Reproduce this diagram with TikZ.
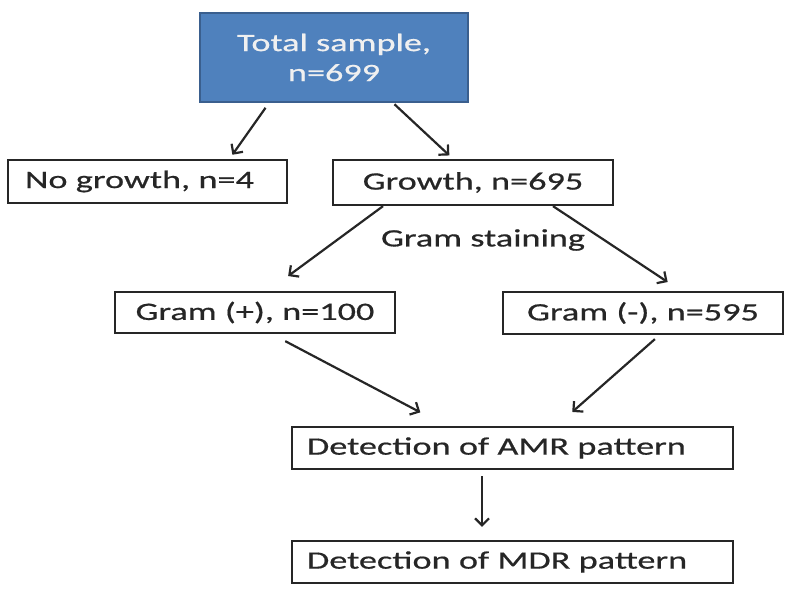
\documentclass[tikz,border=0pt]{standalone}
\usepackage{fontspec}
\setmainfont[FakeStretch=1.45,FakeBold=0.6]{Carlito}
\usetikzlibrary{arrows.meta}
\definecolor{boxblue}{HTML}{4F81BD}
\definecolor{boxedge}{HTML}{3A5F8E}
\definecolor{txt}{HTML}{262626}
\tikzset{
  box/.style={draw=black!85, line width=2.3pt, rectangle, inner sep=0pt, text=txt,
    font=\fontsize{25}{30}\selectfont},
  topbox/.style={box, line width=1.8pt, draw=boxedge, fill=boxblue, text=white!94!black, align=center},
  conn/.style={draw=black!85, line width=2.2pt, -{Straight Barb[length=7pt,width=14pt]}},
  lbl/.style={text=txt, font=\fontsize{25}{30}\selectfont, inner sep=0pt}
}
\begin{document}
\begin{tikzpicture}[x=1pt,y=-1pt]
\useasboundingbox (0,0) rectangle (791,589);
\node[topbox, minimum width=268pt, minimum height=89pt] (top) at (334,57.5) {Total sample,\\n=699};
\node[box, text width=245pt, inner xsep=17pt, align=left, minimum height=43pt] (nog) at (147.5,181.5) {No growth, n=4};
\node[box, minimum width=280pt, minimum height=45pt] (gro) at (473,182.5) {Growth, n=695};
\node[lbl] (gs) at (483,240) {Gram staining};
\node[box, minimum width=280pt, minimum height=41pt] (gp) at (255,312.5) {Gram (+), n=100};
\node[box, minimum width=280pt, minimum height=42pt] (gm) at (643,313) {Gram (-), n=595};
\node[box, text width=411pt, inner xsep=15pt, align=left, minimum height=42pt] (amr) at (512.5,448) {Detection of AMR pattern};
\node[box, text width=411pt, inner xsep=15pt, align=left, minimum height=42pt] (mdr) at (512.5,562) {Detection of MDR pattern};

\draw[conn, shorten <=6pt, shorten >=5pt] ([xshift=-65pt]top.south) -- ([xshift=82pt]nog.north);
\draw[conn, shorten <=2pt, shorten >=5pt] ([xshift=59pt]top.south) -- ([xshift=-20pt]gro.north);
\draw[conn, shorten >=25pt] ([xshift=-90pt]gro.south) -- ([xshift=13pt]gp.north);
\draw[conn, shorten >=16pt] ([xshift=80pt]gro.south) -- ([xshift=38pt]gm.north);
\draw[conn, shorten <=15pt, shorten >=29pt] ([xshift=17pt]gp.south) -- ([xshift=-66.5pt]amr.north);
\draw[conn, shorten <=6pt, shorten >=21pt] ([xshift=16.4pt]gm.south) -- ([xshift=44pt]amr.north);
\draw[conn, shorten <=6pt, shorten >=13pt] ([xshift=-30.5pt]amr.south) -- ([xshift=-30.5pt]mdr.north);
\end{tikzpicture}
\end{document}
